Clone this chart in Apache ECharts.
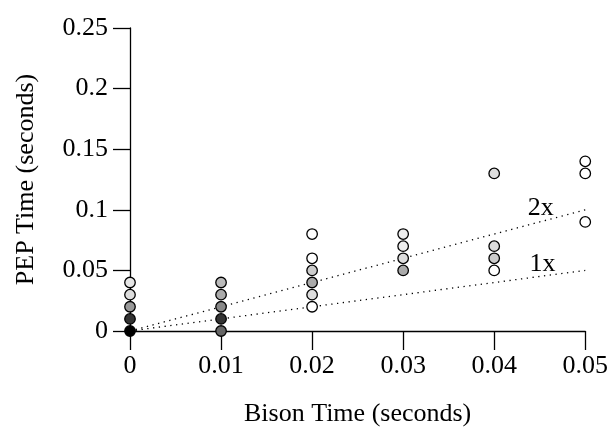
<!DOCTYPE html>
<html><head><meta charset="utf-8">
<script src="https://cdn.jsdelivr.net/npm/echarts@6/dist/echarts.min.js"></script>
<style>html,body{margin:0;padding:0;background:#fff}#c{width:611px;height:432px}</style>
</head><body><div id="c"></div>
<script>
const xTicks = [0, 0.01, 0.02, 0.03, 0.04, 0.05];
const yTicks = [0, 0.05, 0.1, 0.15, 0.2, 0.25];
const pointX = [0,0,0,0,0, 0.01,0.01,0.01,0.01,0.01, 0.02,0.02,0.02,0.02,0.02,0.02, 0.03,0.03,0.03,0.03, 0.04,0.04,0.04,0.04, 0.05,0.05,0.05];
const pointY = [0,0.01,0.02,0.03,0.04, 0,0.01,0.02,0.03,0.04, 0.02,0.03,0.04,0.05,0.06,0.08, 0.05,0.06,0.07,0.08, 0.05,0.06,0.07,0.13, 0.09,0.13,0.14];
const pointFill = ['#000000','#333333','#999999','#dddddd','#e6e6e6',
  '#666666','#333333','#888888','#aaaaaa','#bbbbbb',
  '#ffffff','#dddddd','#aaaaaa','#cccccc','#ffffff','#ffffff',
  '#aaaaaa','#dddddd','#eeeeee','#eeeeee',
  '#ffffff','#cccccc','#dddddd','#dddddd',
  '#ffffff','#ffffff','#ffffff'];
const ratioLines = [{name:'2x', factor:2}, {name:'1x', factor:1}];

const font = 'Liberation Serif';
const chart = echarts.init(document.getElementById('c'), null, {renderer:'canvas'});
const pts = pointX.map((x,i)=>({value:[x, pointY[i]], itemStyle:{color:pointFill[i]}}));
const lineSeries = ratioLines.map(r=>({
  type:'line', name:r.name, silent:true, symbol:'none', z:1,
  data:[[0,0],[0.05,0.05*r.factor]],
  lineStyle:{color:'#000', width:1.3, type:[1.3,4.5]}
}));
const labelSeries = {
  type:'scatter', silent:true, symbolSize:0, z:3,
  data:[{value:[0.0451,0.1015], label:{formatter:'2x'}},{value:[0.0453,0.0553], label:{formatter:'1x'}}],
  label:{show:true, position:'inside', fontFamily:font, fontSize:26, color:'#000'},
  itemStyle:{opacity:1}
};
const fmt = v => String(+v.toFixed(2));
chart.setOption({
  animation:false,
  backgroundColor:'#fff',
  grid:{left:130, right:24, top:28, bottom:100, containLabel:false},
  xAxis:{type:'value', min:0, max:0.05, interval:0.01,
    name:'Bison Time (seconds)', nameLocation:'middle', nameGap:70,
    nameTextStyle:{fontFamily:font, fontSize:26, color:'#000'},
    axisLine:{show:true, lineStyle:{color:'#000', width:1.3}},
    axisTick:{show:true, length:19, lineStyle:{color:'#000', width:1.3}},
    axisLabel:{fontFamily:font, fontSize:26, color:'#000', margin:22, formatter:fmt},
    splitLine:{show:false}},
  yAxis:{type:'value', min:0, max:0.25, interval:0.05,
    name:'PEP Time (seconds)', nameLocation:'middle', nameGap:91, nameRotate:90,
    nameTextStyle:{fontFamily:font, fontSize:26, color:'#000'},
    axisLine:{show:true, lineStyle:{color:'#000', width:1.3}},
    axisTick:{show:true, length:17, lineStyle:{color:'#000', width:1.3}},
    axisLabel:{fontFamily:font, fontSize:26, color:'#000', margin:22, formatter:fmt},
    splitLine:{show:false}},
  series:[...lineSeries, labelSeries,
    {type:'scatter', symbol:'circle', symbolSize:10.5, z:5, data:pts,
     itemStyle:{borderColor:'#000', borderWidth:1.3, opacity:1}}]
});
</script></body></html>
